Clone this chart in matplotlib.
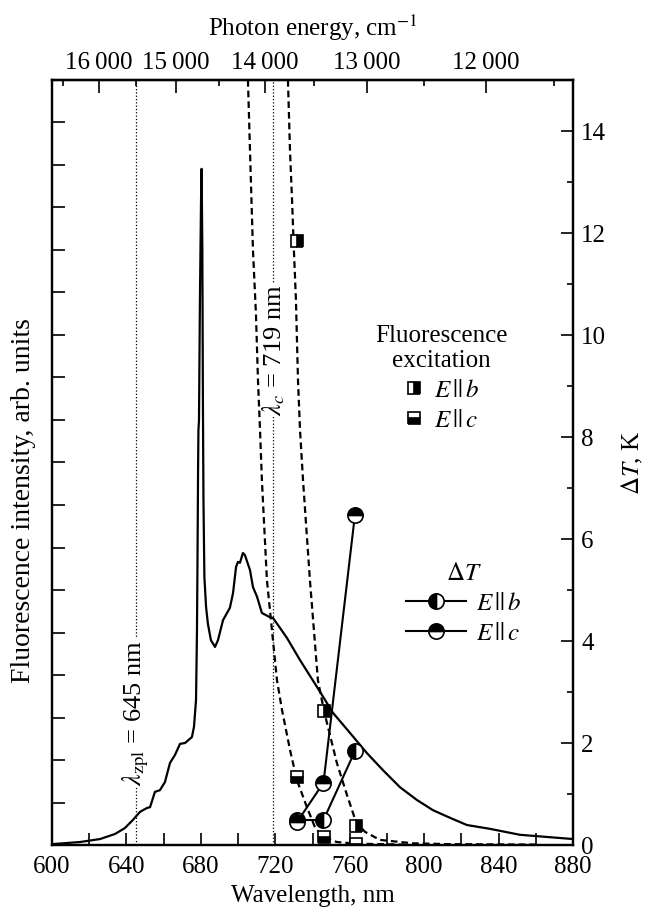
import matplotlib
matplotlib.use("Agg")
from matplotlib import pyplot as plt
from matplotlib.ticker import FixedLocator, MultipleLocator, NullFormatter

plt.rcParams['font.family'] = ['Liberation Serif', 'DejaVu Serif']
plt.rcParams['mathtext.fontset'] = 'stix'
plt.rcParams['font.size'] = 18

# fluorescence spectrum (nm, arb. units)
spec_wl = [600, 615.0, 625.8, 633.9, 639.2, 643.5, 647.3, 651.0, 652.7, 655.3, 658.0, 660.7,
           663.4, 666.1, 668.8, 671.5, 675.2, 676.3, 677.4, 677.9, 678.2, 678.5, 678.7, 679.0,
           679.5, 680.1, 680.4, 680.8, 681.1, 681.4, 681.9, 682.8, 683.8, 685.4, 687.6, 689.2,
           691.9, 695.6, 697.3, 698.9, 699.9, 701.0, 702.6, 703.7, 706.4, 708.0, 710.2, 712.8,
           717.1, 718.8, 722.5, 726.3, 733.3, 742.4, 751.0, 760.1, 769.3, 777.9, 787.0, 796.1,
           804.7, 813.9, 823.0, 835.4, 851.5, 880]
spec_int = [0.02, 0.07, 0.14, 0.26, 0.40, 0.59, 0.78, 0.87, 0.89, 1.25, 1.29, 1.48,
            1.93, 2.12, 2.38, 2.40, 2.54, 2.78, 3.41, 4.99, 6.71, 8.82, 9.76, 10.0,
            12.82, 15.18, 15.91, 14.0, 10.47, 8.12, 6.3, 5.6, 5.2, 4.82, 4.66, 4.82,
            5.29, 5.58, 5.93, 6.54, 6.66, 6.64, 6.87, 6.82, 6.47, 6.07, 5.84, 5.46,
            5.36, 5.34, 5.11, 4.87, 4.35, 3.72, 3.11, 2.64, 2.16, 1.76, 1.36, 1.06,
            0.82, 0.64, 0.47, 0.38, 0.24, 0.14]

# excitation fit curves (dashed)
fit_b_wl = [726.8, 727.9, 729.0, 730.0, 731.1, 732.2, 733.3, 734.9, 738.6, 742.9, 746.2,
            753.1, 758.5, 763.4, 768.2, 776.2, 794.0, 813.9, 860.0]
fit_b_int = [18.0, 16.35, 15.18, 14.0, 12.82, 10.94, 9.76, 8.59, 6.24, 3.88, 3.15,
             1.93, 1.18, 0.54, 0.31, 0.12, 0.04, 0.02, 0.01]
fit_c_wl = [705.3, 706.4, 708.0, 709.6, 710.7, 711.8, 712.8, 715.5, 718.2, 720.9, 723.6,
            727.9, 731.6, 737.0, 741.3, 745.6, 753.1, 763.9, 790.0]
fit_c_int = [18.0, 16.35, 14.0, 12.5, 10.94, 9.76, 8.59, 6.24, 5.06, 3.88, 3.18,
             2.24, 1.53, 0.89, 0.42, 0.19, 0.07, 0.03, 0.01]

# excitation points
exc_wl = [731.7, 746.0, 763.2]
exc_b = [14.21, 3.15, 0.45]
exc_c = [1.60, 0.19, 0.02]

# heating, K
dT_wl = [731.7, 745.9, 762.8]
dT_b = [0.49, 0.49, 1.84]
dT_c = [0.45, 1.22, 6.47]

top_major = [16000, 15000, 14000, 13000, 12000]
top_minor = [16500, 15500, 14500, 13500, 12500, 11500]
top_labels = ['16\u2009000', '15\u2009000', '14\u2009000', '13\u2009000', '12\u2009000']

fig = plt.figure(figsize=(6.49, 9.13), dpi=100)
ax = fig.add_axes([52/649, 1-845/913, 521/649, 765/913])
ax2 = ax.twinx()

ax.plot(spec_wl, spec_int, color='black', lw=1.6, zorder=3)
ax.plot(fit_b_wl, fit_b_int, color='black', lw=1.6, ls=(0, (3, 1.8)), zorder=3)
ax.plot(fit_c_wl, fit_c_int, color='black', lw=1.6, ls=(0, (3, 1.8)), zorder=3)

ax.axvline(645, color='black', lw=0.9, ls=':', zorder=1)
ax.axvline(719, color='black', lw=0.9, ls=':', zorder=1)
ax.text(645, 3.1, r'$\lambda_{\rm zpl}$ = 645 nm', rotation=90, ha='center', va='center',
        fontsize=19, zorder=2, bbox=dict(fc='white', ec='none', pad=1))
ax.text(719, 11.65, r'$\lambda_c$ = 719 nm', rotation=90, ha='center', va='center',
        fontsize=19, zorder=2, bbox=dict(fc='white', ec='none', pad=1))

sq_b, = ax.plot(exc_wl, exc_b, ls='none', marker='s', ms=8, fillstyle='right',
                mfc='black', mfcalt='white', mec='black', mew=1.2, zorder=5)
sq_c, = ax.plot(exc_wl, exc_c, ls='none', marker='s', ms=8, fillstyle='bottom',
                mfc='black', mfcalt='white', mec='black', mew=1.2, zorder=5)

ln_b, = ax2.plot(dT_wl, dT_b, color='black', lw=1.5, marker='o', ms=11, fillstyle='left',
                 mfc='black', mfcalt='white', mec='black', mew=1.2, zorder=5)
ln_c, = ax2.plot(dT_wl, dT_c, color='black', lw=1.5, marker='o', ms=11, fillstyle='top',
                 mfc='black', mfcalt='white', mec='black', mew=1.2, zorder=5)

ax.set_xlim(600, 880)
ax.set_ylim(0, 18)
ax2.set_ylim(0, 15)

ax.xaxis.set_major_locator(MultipleLocator(40))
ax.xaxis.set_minor_locator(MultipleLocator(20))
ax.yaxis.set_major_locator(MultipleLocator(1))
ax.yaxis.set_major_formatter(NullFormatter())
ax.tick_params(axis='x', which='both', direction='in', length=9, width=1.2, top=False, pad=8)
ax.tick_params(axis='y', which='both', direction='in', length=9, width=1.2, right=False)

ax2.yaxis.set_major_locator(MultipleLocator(2))
ax2.yaxis.set_minor_locator(MultipleLocator(1))
ax2.tick_params(axis='y', which='major', direction='in', length=9, width=1.2, pad=6)
ax2.tick_params(axis='y', which='minor', direction='in', length=4.5, width=1.2)

top = ax.secondary_xaxis('top', functions=(lambda x: 1e7 / x, lambda x: 1e7 / x))
top.xaxis.set_major_locator(FixedLocator(top_major))
top.xaxis.set_minor_locator(FixedLocator(top_minor))
top.set_xticklabels(top_labels)
top.tick_params(axis='x', which='major', direction='in', length=9, width=1.2, pad=4)
top.tick_params(axis='x', which='minor', direction='in', length=4.5, width=1.2)
top.set_xlabel('Photon energy, cm$^{-1}$', labelpad=12)

for a in (ax, ax2):
    for s in a.spines.values():
        s.set_linewidth(1.6)
top.spines['top'].set_linewidth(1.6)

ax.set_xlabel('Wavelength, nm', labelpad=5)
ax.set_ylabel('Fluorescence intensity, arb. units', fontsize=20)
ax.yaxis.set_label_coords(-0.031, 0.45)
ax2.set_ylabel(r'$\Delta T$, K', labelpad=10)

leg1 = ax2.legend([sq_b, sq_c], [r'$E\,||\,b$', r'$E\,||\,c$'], title='Fluorescence\nexcitation',
                  loc='center', bbox_to_anchor=(0.748, 0.61), frameon=False, fontsize=18,
                  title_fontsize=18, handlelength=0.8, handletextpad=0.4, labelspacing=0.3)
leg1.get_title().set_multialignment('center')
ax2.add_artist(leg1)
ax2.legend([ln_b, ln_c], [r'$E\,||\,b$', r'$E\,||\,c$'], title=r'$\Delta T$',
           loc='center', bbox_to_anchor=(0.79, 0.315), frameon=False, fontsize=18,
           title_fontsize=18, handlelength=2.4, handletextpad=0.4, labelspacing=0.3)

fig.savefig('out.png', dpi=100)
